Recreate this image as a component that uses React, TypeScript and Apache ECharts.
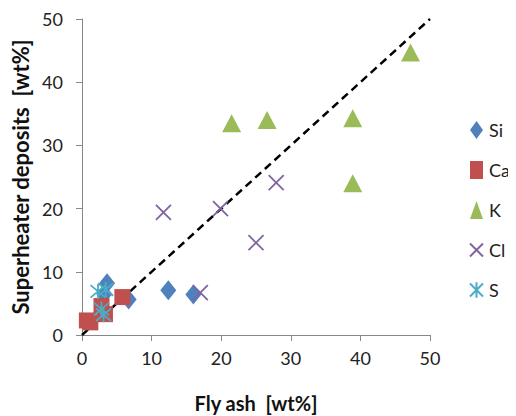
import React, { useEffect, useRef } from "react";
import * as echarts from "echarts";

const siData: number[][] = [[3.6, 8.2], [6.7, 5.6], [12.4, 7.1], [16.0, 6.4], [3.2, 6.5]];
const caData: number[][] = [[0.7, 2.3], [2.8, 4.6], [5.8, 6.0], [3.3, 3.3], [1.2, 2.0]];
const kData: number[][] = [[21.5, 33.5], [26.6, 34.0], [38.9, 34.3], [38.9, 24.0], [47.2, 44.7]];
const clData: number[][] = [[11.7, 19.4], [19.9, 20.0], [27.9, 24.1], [25.0, 14.6], [17.0, 6.7]];
const sData: number[][] = [[2.3, 6.9], [3.1, 3.2], [3.4, 7.2], [2.8, 4.1]];
const refLine: number[][] = [[0, 0], [50, 50]];
const legendNames = ["Si", "Ca", "K", "Cl", "S"];

const FONT = "Lato, 'Open Sans', sans-serif";
const crossPath = "path://M0,0L10,10M10,0L0,10";
const starPath = "path://M0,0L10,10M10,0L0,10M5,-1L5,11";

export default function App() {
  const ref = useRef<HTMLDivElement>(null);
  useEffect(() => {
    const chart = echarts.init(ref.current!, null, { renderer: "svg" });
    chart.setOption({
      animation: false,
      backgroundColor: "#fff",
      grid: { left: 74, top: 11, width: 348, height: 316, containLabel: false, outerBoundsMode: "none" },
      legend: {
        data: legendNames,
        orient: "vertical",
        left: 461,
        top: 113,
        padding: 0,
        itemGap: 22,
        itemWidth: 13,
        itemHeight: 18,
        textStyle: { fontFamily: FONT, fontSize: 18, color: "#222", padding: [0, 0, 0, 1] },
      },
      xAxis: {
        type: "value",
        min: 0,
        max: 50,
        interval: 10,
        name: "Fly ash  [wt%]",
        nameLocation: "middle",
        nameGap: 58,
        nameTextStyle: { fontFamily: FONT, fontSize: 20, fontWeight: "bold", color: "#111" },
        axisLine: { lineStyle: { color: "#888" } },
        axisTick: { show: true, length: 6, lineStyle: { color: "#888" } },
        axisLabel: { fontFamily: FONT, fontSize: 18, color: "#222", margin: 14 },
        splitLine: { show: false },
      },
      yAxis: {
        type: "value",
        min: 0,
        max: 50,
        interval: 10,
        name: "Superheater deposits  [wt%]",
        nameLocation: "middle",
        nameGap: 46,
        nameTextStyle: { fontFamily: FONT, fontSize: 22, fontWeight: "bold", color: "#111" },
        axisLine: { show: true, lineStyle: { color: "#888" } },
        axisTick: { show: true, length: 6, lineStyle: { color: "#888" } },
        axisLabel: { fontFamily: FONT, fontSize: 18, color: "#222", margin: 19 },
        splitLine: { show: false },
      },
      series: [
        {
          name: "ref",
          type: "line",
          data: refLine,
          symbol: "none",
          lineStyle: { color: "#000", width: 2.5, type: [8, 5] },
          z: 1,
        },
        {
          name: "Si",
          type: "scatter",
          data: siData,
          symbol: "diamond",
          symbolSize: [16, 20],
          itemStyle: { color: "#4F81BD", opacity: 1 },
          z: 3,
        },
        {
          name: "Ca",
          type: "scatter",
          data: caData,
          symbol: "rect",
          symbolSize: 16,
          itemStyle: { color: "#C0504D", opacity: 1 },
          z: 3,
        },
        {
          name: "K",
          type: "scatter",
          data: kData,
          symbol: "triangle",
          symbolSize: [19, 18],
          itemStyle: { color: "#9BBB59", opacity: 1 },
          z: 3,
        },
        {
          name: "Cl",
          type: "scatter",
          data: clData,
          symbol: crossPath,
          symbolSize: 15,
          itemStyle: { color: "#8064A2", borderColor: "#8064A2", borderWidth: 1.8, opacity: 1 },
          z: 3,
        },
        {
          name: "S",
          type: "scatter",
          data: sData,
          symbol: starPath,
          symbolSize: 15,
          itemStyle: { color: "#4BACC6", borderColor: "#4BACC6", borderWidth: 1.8, opacity: 1 },
          z: 4,
        },
      ],
    });
    return () => chart.dispose();
  }, []);
  return <div ref={ref} style={{ width: 508, height: 408 }} />;
}
